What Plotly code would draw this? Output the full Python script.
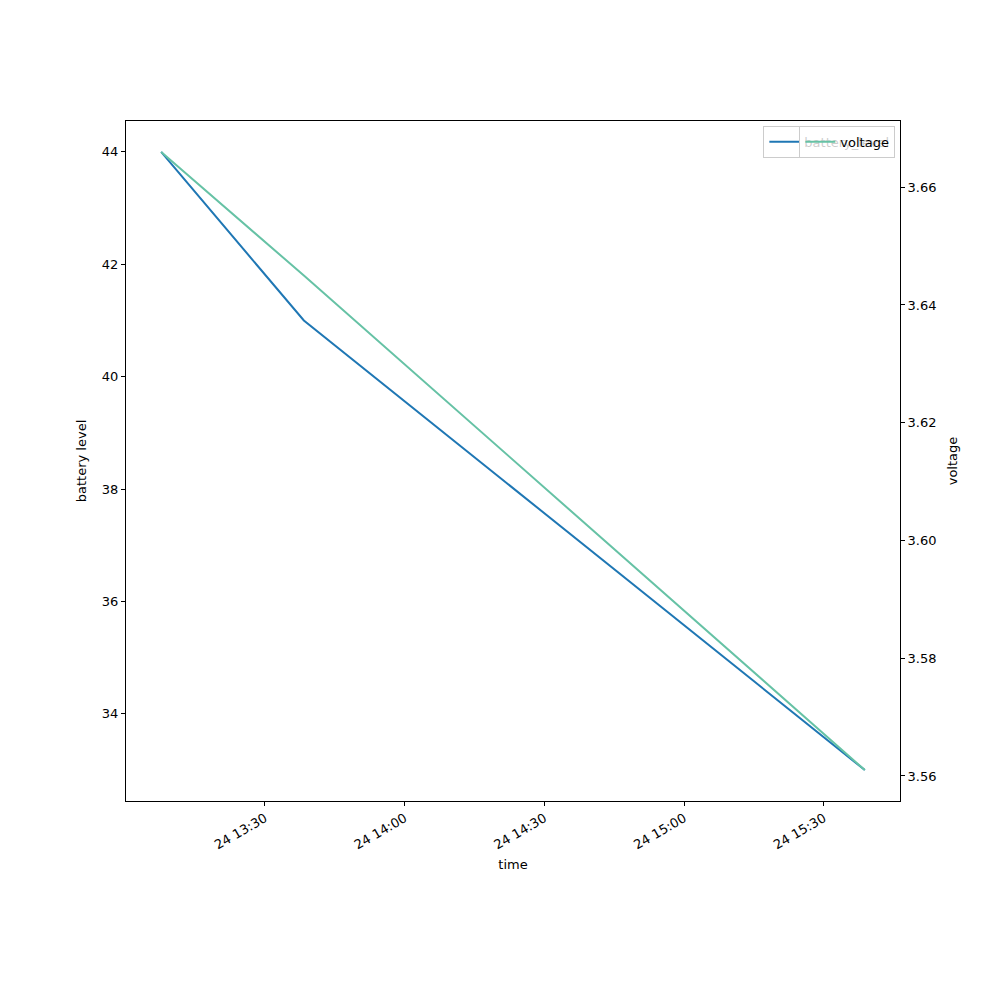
import pandas as pd
import plotly.graph_objects as go

times = ["2023-06-24 13:07:43", "2023-06-24 13:38:21", "2023-06-24 15:38:47"]
battery_level = [44, 41, 33]
voltage = [3.666, 3.645, 3.561]
voltage_ticks = [3.56, 3.58, 3.60, 3.62, 3.64, 3.66]
battery_ticks = [34, 36, 38, 40, 42, 44]
time_ticks = ["2023-06-24 13:30", "2023-06-24 14:00", "2023-06-24 14:30",
              "2023-06-24 15:00", "2023-06-24 15:30"]

t = pd.to_datetime(times)
span = t.max() - t.min()
xr = [t.min() - 0.05 * span, t.max() + 0.05 * span]
b_span = max(battery_level) - min(battery_level)
yr = [min(battery_level) - 0.05 * b_span, max(battery_level) + 0.05 * b_span]
v_span = max(voltage) - min(voltage)
y2r = [min(voltage) - 0.05 * v_span, max(voltage) + 0.05 * v_span]

FONT = "DejaVu Sans"
fig = go.Figure()
fig.add_trace(go.Scatter(x=t, y=battery_level, mode="lines", name="battery_level",
                         line=dict(color="#1f77b4", width=2), legend="legend"))
fig.add_trace(go.Scatter(x=t, y=voltage, mode="lines", name="voltage", yaxis="y2",
                         line=dict(color="#66c2a5", width=2), legend="legend2"))

axis_common = dict(showline=True, linecolor="black", linewidth=1, ticks="outside",
                   ticklen=4, tickcolor="black", showgrid=False, zeroline=False,
                   automargin=False,
                   tickfont=dict(family=FONT, size=13, color="black"))

fig.update_layout(
    width=1000, height=1000,
    margin=dict(l=118, r=108, t=113, b=207, autoexpand=False),
    paper_bgcolor="white", plot_bgcolor="white",
    font=dict(family=FONT, size=13, color="black"),
    xaxis=dict(range=xr, tickvals=pd.to_datetime(time_ticks), tickformat="%d %H:%M",
               tickangle=-30, mirror=True,
               title=dict(text="time", font=dict(family=FONT, size=13), standoff=8),
               **axis_common),
    yaxis=dict(range=yr, tickvals=battery_ticks, mirror=True,
               title=dict(text="battery level", font=dict(family=FONT, size=13), standoff=12),
               **axis_common),
    yaxis2=dict(range=y2r, tickvals=voltage_ticks, tickformat=".2f", overlaying="y",
                side="right",
                title=dict(text="voltage", font=dict(family=FONT, size=13), standoff=12),
                **axis_common),
    legend=dict(x=0.994, y=0.993, xanchor="right", yanchor="top",
                bgcolor="rgba(255,255,255,0.8)", bordercolor="#cccccc", borderwidth=1,
                itemwidth=30, tracegroupgap=0,
                font=dict(family=FONT, size=13, color="black")),
    legend2=dict(x=0.994, y=0.993, xanchor="right", yanchor="top",
                 bgcolor="rgba(255,255,255,0.8)", bordercolor="#cccccc", borderwidth=1,
                 itemwidth=30,
                 font=dict(family=FONT, size=13, color="black")),
    showlegend=True,
)

fig.write_html("out.html")
